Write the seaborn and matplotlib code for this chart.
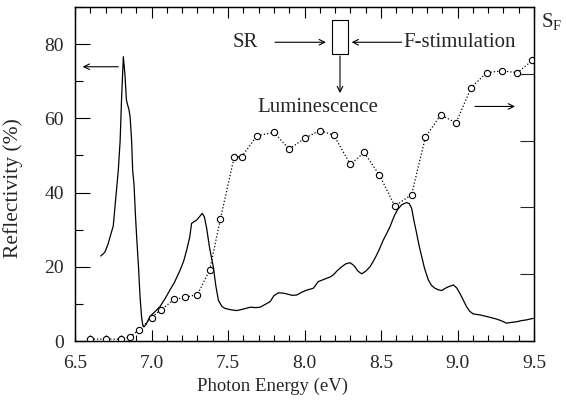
import numpy as np
import pandas as pd
import seaborn as sns
import matplotlib
matplotlib.use("Agg")
import matplotlib.pyplot as plt
from matplotlib.ticker import MultipleLocator
from matplotlib.patches import Rectangle

# Reflectivity (solid curve)
refl_energy = [6.668, 6.685, 6.696, 6.715, 6.729, 6.75, 6.761, 6.772, 6.783, 6.795, 6.805, 6.816,
               6.826, 6.836, 6.844, 6.852, 6.86, 6.87, 6.877, 6.886, 6.895, 6.903, 6.915, 6.925,
               6.935, 6.942, 6.95, 6.965, 6.99, 7.02, 7.056, 7.09, 7.12, 7.15, 7.186, 7.21, 7.23,
               7.25, 7.262, 7.28, 7.295, 7.31, 7.332, 7.345, 7.36, 7.38, 7.404, 7.42, 7.437, 7.46,
               7.48, 7.52, 7.557, 7.60, 7.644, 7.68, 7.71, 7.74, 7.775, 7.80, 7.83, 7.86, 7.883,
               7.92, 7.95, 7.98, 8.014, 8.057, 8.075, 8.09, 8.12, 8.145, 8.17, 8.188, 8.215, 8.243,
               8.27, 8.297, 8.315, 8.33, 8.35, 8.374, 8.40, 8.428, 8.45, 8.472, 8.49, 8.515, 8.535,
               8.559, 8.575, 8.59, 8.61, 8.635, 8.65, 8.668, 8.685, 8.70, 8.715, 8.733, 8.75, 8.766,
               8.785, 8.81, 8.83, 8.853, 8.875, 8.897, 8.92, 8.94, 8.973, 8.995, 9.016, 9.04, 9.06,
               9.08, 9.103, 9.15, 9.19, 9.22, 9.256, 9.29, 9.32, 9.35, 9.387, 9.42, 9.452, 9.495]
refl_value = [22.9, 23.5, 24.0, 26, 28, 31, 36, 41, 46, 54, 66, 76.6,
              72, 65, 63.6, 62.5, 60.5, 54, 46, 42, 34, 28, 20, 12,
              6.5, 4.5, 3.8, 4.5, 6.6, 7.8, 9.3, 11.5, 13.7, 15.8, 19, 21.5, 24.5,
              28, 31.7, 32.2, 32.6, 33.3, 34.4, 33.5, 30.5, 25, 20, 15, 11, 9.3,
              8.8, 8.4, 8.2, 8.6, 9.1, 9.0, 9.1, 9.8, 10.6, 12.2, 13.0, 12.9, 12.7,
              12.3, 12.4, 13.1, 13.7, 14.2, 15.2, 16, 16.5, 16.9, 17.3, 17.8, 19, 20,
              20.8, 21.1, 20.6, 20, 18.8, 18.1, 18.8, 20, 21.5, 23.2, 24.8, 27.2, 28.8,
              30.8, 32.5, 34, 35.5, 36.7, 37, 37.3, 37.0, 35.8, 32.5, 29, 25.5, 22.7,
              19.5, 16.4, 15.0, 14.2, 13.8, 13.6, 14.2, 14.6, 15.1, 14.3, 12.8, 10.8, 9.2,
              8.0, 7.3, 7.0, 6.6, 6.3, 5.9, 5.4, 4.8, 5.0, 5.2, 5.5, 5.7, 6.1]

# S_F stimulation spectrum (circles, right axis, same plotting scale)
sf_energy = [6.60, 6.70, 6.80, 6.86, 6.92, 7.00, 7.06, 7.15, 7.22, 7.30, 7.38, 7.45, 7.54, 7.59,
             7.69, 7.80, 7.90, 8.00, 8.10, 8.19, 8.30, 8.39, 8.49, 8.59, 8.70, 8.79, 8.89, 8.99,
             9.09, 9.19, 9.29, 9.39, 9.49]
sf_value = [0.5, 0.5, 0.5, 1.2, 3.0, 6.3, 8.4, 11.2, 11.8, 12.5, 19.1, 32.8, 49.5, 49.7,
            55.3, 56.2, 51.7, 54.6, 56.7, 55.5, 47.6, 50.8, 44.7, 36.4, 39.4, 54.9, 60.9, 58.8,
            68.3, 72.3, 72.8, 72.3, 75.6]

x_ticks = [6.5, 7.0, 7.5, 8.0, 8.5, 9.0, 9.5]
x_tick_labels = ["6.5", "7.0", "7.5", "8.0", "8.5", "9.0", "9.5"]
y_ticks = [0, 20, 40, 60, 80]

sns.set_style("ticks")
plt.rcParams['font.family'] = ['Liberation Serif', 'DejaVu Serif']
plt.rcParams['mathtext.fontset'] = 'custom'
plt.rcParams['mathtext.rm'] = 'Liberation Serif'
plt.rcParams['mathtext.it'] = 'Liberation Serif:italic'

fig = plt.figure(figsize=(5.66, 4.0), dpi=100)
ax = fig.add_axes([75/566, 59/400, 459/566, 334/400])

refl_df = pd.DataFrame({"E": refl_energy, "R": refl_value})
sf_df = pd.DataFrame({"E": sf_energy, "S": sf_value})

sns.lineplot(data=refl_df, x="E", y="R", ax=ax, color="black", lw=0.9, sort=False)

ax2 = ax.twinx()
sns.lineplot(data=sf_df, x="E", y="S", ax=ax2, color="black", lw=0.9, linestyle=":",
             marker="o", markersize=4.5, markerfacecolor="white", markeredgecolor="black",
             markeredgewidth=0.8, sort=False)

for a in (ax, ax2):
    a.set_xlim(6.5, 9.5)
    a.set_ylim(0, 90)
    for s in a.spines.values():
        s.set_visible(True)
        s.set_linewidth(0.9)
        s.set_color("black")

ax.set_xticks(x_ticks)
ax.set_xticklabels(x_tick_labels)
ax.xaxis.set_minor_locator(MultipleLocator(0.1))
ax.set_yticks(y_ticks)
ax.yaxis.set_minor_locator(MultipleLocator(10))
ax.tick_params(axis="x", which="both", direction="in", top=True, labelsize=14, pad=10, color="black")
ax.tick_params(axis="x", which="major", length=8, width=0.8)
ax.tick_params(axis="x", which="minor", length=4, width=0.8)
ax.tick_params(axis="y", which="both", direction="in", right=False, labelsize=14, pad=8, color="black")
ax.tick_params(axis="y", which="major", length=11, width=0.8)
ax.tick_params(axis="y", which="minor", length=6, width=0.8)

ax2.set_yticks([0, 18, 36, 54, 72, 90])
ax2.set_yticklabels([])
ax2.tick_params(axis="y", which="major", direction="in", length=10, width=0.8, right=True, left=False)
ax2.set_ylabel("")
ax2.set_xlabel("")

ax.set_xlabel("Photon Energy (eV)", fontsize=13.5)
ax.set_ylabel("Reflectivity (%)", fontsize=15.5)
ax.xaxis.set_label_coords(0.431, -0.11)
ax.yaxis.set_label_coords(-0.113, 0.457)

# axis direction arrows
arr = dict(arrowstyle="->", lw=0.8, color="black", shrinkA=0, shrinkB=0)
ax.annotate("", xy=(6.55, 73.9), xytext=(6.783, 73.9), arrowprops=arr)
ax2.annotate("", xy=(9.376, 63.2), xytext=(9.114, 63.2), arrowprops=arr)

# experiment scheme
ax.text(7.61, 80.5, "SR", fontsize=15, ha="center", va="center")
ax.annotate("", xy=(8.14, 80.5), xytext=(7.807, 80.5), arrowprops=arr)
ax.add_patch(Rectangle((8.178, 77.4), 0.108, 9.1, fill=False, lw=0.8, ec="black"))
ax.annotate("", xy=(8.308, 80.5), xytext=(8.635, 80.5), arrowprops=arr)
ax.text(8.646, 80.5, "F-stimulation", fontsize=15, ha="left", va="center")
ax.annotate("", xy=(8.232, 66.8), xytext=(8.232, 76.8), arrowprops=arr)
ax.text(8.09, 62.8, "Luminescence", fontsize=15, ha="center", va="center")

fig.text(541/566, 1 - 21/400, r"S$_{\mathrm{F}}$", fontsize=15, ha="left", va="center")

fig.savefig("out.png", dpi=100)
